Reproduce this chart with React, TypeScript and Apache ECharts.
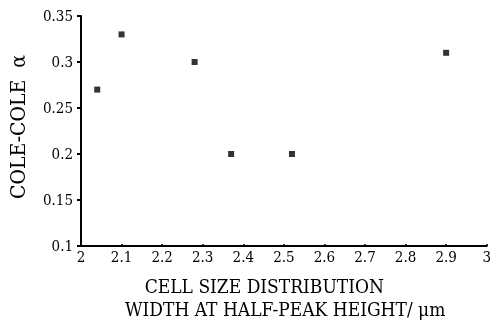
import React, { useEffect, useRef } from "react";
import * as echarts from "echarts";

const xValues = [2.04, 2.1, 2.28, 2.37, 2.52, 2.9];
const yValues = [0.27, 0.33, 0.3, 0.2, 0.2, 0.31];
const xTitleLine1 = "   \u2009CELL SIZE DISTRIBUTION";
const xTitleLine2 = "WIDTH AT HALF-PEAK HEIGHT/ μm";
const yTitle = "COLE-COLE  α";

const FONT = "'DejaVu Serif Condensed', 'Liberation Serif', serif";

export default function App() {
  const ref = useRef<HTMLDivElement>(null);
  useEffect(() => {
    if (!ref.current) return;
    const chart = echarts.init(ref.current, null, { renderer: "svg" });
    const data = xValues.map((x, i) => [x, yValues[i]]);
    chart.setOption({
      animation: false,
      grid: { left: 81, right: 5, top: 16, bottom: 79 },
      xAxis: {
        type: "value",
        min: 2,
        max: 3,
        interval: 0.1,
        axisLine: { show: true, lineStyle: { color: "#000000", width: 2 } },
        axisTick: { show: true, inside: true, length: 2, lineStyle: { color: "#000000", width: 1.5 } },
        axisLabel: {
          color: "#000",
          fontFamily: FONT,
          fontSize: 15,
          margin: 3,
          formatter: (v: number) => String(Math.round(v * 10) / 10),
        },
        splitLine: { show: false },
      },
      yAxis: {
        type: "value",
        min: 0.1,
        max: 0.35,
        interval: 0.05,
        axisLine: { show: true, lineStyle: { color: "#000000", width: 2 } },
        axisTick: { show: true, inside: false, length: 4, lineStyle: { color: "#000000", width: 2 } },
        axisLabel: {
          color: "#000",
          fontFamily: FONT,
          fontSize: 15,
          margin: 8,
          formatter: (v: number) => String(Math.round(v * 100) / 100),
        },
        splitLine: { show: false },
      },
      graphic: [
        {
          type: "text",
          x: 18,
          y: 127,
          rotation: Math.PI / 2,
          style: {
            text: yTitle,
            fill: "#000",
            font: `21px ${FONT}`,
            textAlign: "center",
            textVerticalAlign: "middle",
          },
        },
        {
          type: "text",
          x: 125,
          y: 297,
          style: {
            text: xTitleLine1 + "\n" + xTitleLine2,
            fill: "#000",
            font: `19px ${FONT}`,
            lineHeight: 23,
            textAlign: "left",
            textVerticalAlign: "middle",
          },
        },
      ],
      series: [
        {
          type: "scatter",
          data,
          symbol: "rect",
          symbolSize: 6,
          itemStyle: { color: "#000" },
        },
      ],
    });
    return () => chart.dispose();
  }, []);
  return <div ref={ref} style={{ width: 494, height: 325, position: "fixed", left: 0, top: 0 }} />;
}
